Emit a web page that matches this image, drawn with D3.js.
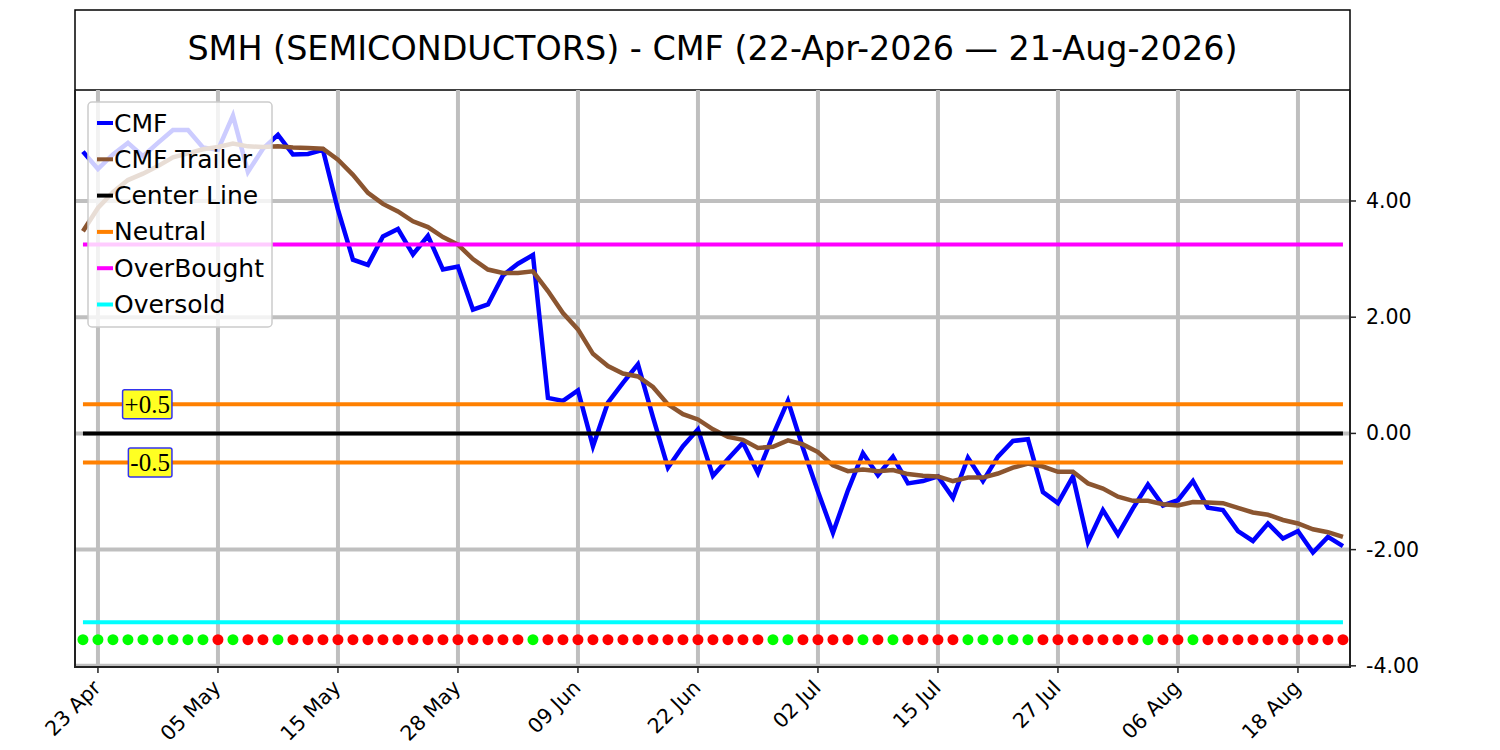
<!DOCTYPE html>
<html>
<head>
<meta charset="utf-8">
<script src="https://cdn.jsdelivr.net/npm/d3@7"></script>
<style>
	body { margin: 0; background: #fff; }
	svg { display: block; font-family: "DejaVu Sans", sans-serif; }
</style>
</head>
<body>
<div id="chart"></div>
<script>
// CMF values, one per trading day (22-Apr-2026 .. 21-Aug-2026)
var cmf = [4.85, 4.55, 4.80, 5.00, 4.77, 5.00, 5.22, 5.22, 4.92, 4.88,
	5.47, 4.50, 4.90, 5.14, 4.80, 4.81, 4.88, 3.85, 2.99, 2.90,
	3.39, 3.52, 3.08, 3.40, 2.82, 2.87, 2.13, 2.22, 2.72, 2.92,
	3.07, 0.61, 0.56, 0.74, -0.22, 0.53, 0.87, 1.19, 0.28, -0.59,
	-0.22, 0.07, -0.73, -0.44, -0.16, -0.68, -0.03, 0.56, -0.25, -1.00,
	-1.71, -0.98, -0.34, -0.72, -0.40, -0.86, -0.82, -0.74, -1.11, -0.42,
	-0.82, -0.40, -0.13, -0.10, -1.01, -1.20, -0.74, -1.87, -1.32, -1.74,
	-1.29, -0.88, -1.24, -1.15, -0.82, -1.28, -1.32, -1.68, -1.85, -1.55,
	-1.81, -1.68, -2.05, -1.78, -1.94];

var trailer = [3.48, 3.88, 4.15, 4.36, 4.47, 4.60, 4.75, 4.82, 4.89, 4.93,
	4.99, 4.94, 4.93, 4.94, 4.92, 4.91, 4.90, 4.71, 4.45, 4.14,
	3.95, 3.82, 3.65, 3.55, 3.38, 3.25, 3.00, 2.82, 2.76, 2.76,
	2.79, 2.45, 2.07, 1.79, 1.37, 1.16, 1.03, 0.98, 0.80, 0.50,
	0.33, 0.24, 0.07, -0.06, -0.11, -0.25, -0.23, -0.12, -0.19, -0.32,
	-0.55, -0.65, -0.62, -0.65, -0.63, -0.70, -0.73, -0.74, -0.82, -0.76,
	-0.76, -0.69, -0.59, -0.52, -0.57, -0.66, -0.66, -0.86, -0.95, -1.09,
	-1.16, -1.16, -1.22, -1.24, -1.18, -1.19, -1.20, -1.28, -1.36, -1.40,
	-1.49, -1.55, -1.65, -1.70, -1.78];

// 1 = green dot, 0 = red dot
var signal = [1,1,1,1,1,1,1,1,1,0, 1,0,0,1,0,0,0,0,0,0,
	0,0,0,0,0,0,0,0,0,0, 1,0,0,0,0,0,0,0,0,0,
	0,0,0,0,0,0,1,1,0,0, 0,0,1,0,1,0,0,0,0,1,
	1,1,1,1,0,0,0,0,0,0, 0,1,0,0,1,0,0,0,0,0,
	0,0,0,0,0];

var tickIdx = [1, 9, 17, 25, 33, 41, 49, 57, 65, 73, 81];
var tickLabels = ['23 Apr', '05 May', '15 May', '28 May', '09 Jun', '22 Jun',
	'02 Jul', '15 Jul', '27 Jul', '06 Aug', '18 Aug'];
var yTicks = [4, 2, 0, -2, -4];

var levels = [
	{name: 'Center Line', value: 0, color: '#000000'},
	{name: 'Neutral', value: 0.5, color: '#ff8000'},
	{name: 'Neutral', value: -0.5, color: '#ff8000'},
	{name: 'OverBought', value: 3.25, color: '#ff00ff'},
	{name: 'Oversold', value: -3.25, color: '#00ffff'}
];
var legendItems = [
	{name: 'CMF', color: '#0000ff'},
	{name: 'CMF Trailer', color: '#8b5530'},
	{name: 'Center Line', color: '#000000'},
	{name: 'Neutral', color: '#ff8000'},
	{name: 'OverBought', color: '#ff00ff'},
	{name: 'Oversold', color: '#00ffff'}
];
var labels = [{text: '+0.5', value: 0.5}, {text: '-0.5', value: -0.5}];
var dotLevel = -3.55;
var title = 'SMH (SEMICONDUCTORS) - CMF (22-Apr-2026 \u2014 21-Aug-2026)';

var width = 1500, height = 750;
var margin = {left: 75, right: 150, top: 90, bottom: 83};

var svg = d3.select('#chart').append('svg')
	.attr('width', width).attr('height', height);

var x = d3.scaleLinear().domain([-0.53, cmf.length - 1 + 0.47])
	.range([margin.left, width - margin.right]);
var y = d3.scaleLinear().domain([-4.02, 5.91])
	.range([height - margin.bottom, margin.top]);

var x0 = x.range()[0], x1 = x.range()[1];
var yTop = y.range()[1], yBot = y.range()[0];

// title box
svg.append('rect')
	.attr('x', x0).attr('y', 10)
	.attr('width', x1 - x0).attr('height', yTop - 10)
	.attr('fill', 'none').attr('stroke', '#000').attr('stroke-width', 1.5);
svg.append('text')
	.attr('x', (x0 + x1) / 2).attr('y', 50)
	.attr('text-anchor', 'middle').attr('dominant-baseline', 'middle')
	.attr('font-size', 33.4)
	.text(title);

// grid
var grid = svg.append('g');
grid.selectAll('.vgrid').data(tickIdx).enter().append('line')
	.attr('class', 'vgrid')
	.attr('x1', function(d){ return x(d); }).attr('x2', function(d){ return x(d); })
	.attr('y1', yTop).attr('y2', yBot)
	.attr('stroke', '#bfbfbf').attr('stroke-width', 4);
grid.selectAll('.hgrid').data(yTicks).enter().append('line')
	.attr('class', 'hgrid')
	.attr('x1', x0).attr('x2', x1)
	.attr('y1', function(d){ return y(d); }).attr('y2', function(d){ return y(d); })
	.attr('stroke', '#bfbfbf').attr('stroke-width', 4);

var line = function(values){
	return d3.line()
		.x(function(d, i){ return x(i); })
		.y(function(d){ return y(d); })(values);
};

svg.append('path').attr('d', line(cmf))
	.attr('fill', 'none').attr('stroke', '#0000ff')
	.attr('stroke-width', 4.5);
svg.append('path').attr('d', line(trailer))
	.attr('fill', 'none').attr('stroke', '#8b5530')
	.attr('stroke-width', 4.5);

// level lines
svg.selectAll('.level').data(levels).enter().append('line')
	.attr('class', 'level')
	.attr('x1', x(0)).attr('x2', x(cmf.length - 1))
	.attr('y1', function(d){ return y(d.value); })
	.attr('y2', function(d){ return y(d.value); })
	.attr('stroke', function(d){ return d.color; })
	.attr('stroke-width', 4);

// signal dots
svg.selectAll('.dot').data(signal).enter().append('circle')
	.attr('class', 'dot')
	.attr('cx', function(d, i){ return x(i); })
	.attr('cy', y(dotLevel))
	.attr('r', 5.5)
	.attr('fill', function(d){ return d ? '#00ff00' : '#ff0000'; });

// +0.5 / -0.5 tags
var tags = svg.selectAll('.tag').data(labels).enter().append('g')
	.attr('class', 'tag')
	.attr('transform', function(d){
		return 'translate(' + [x(6) - 3, y(d.value)] + ')';
	});
tags.append('text')
	.attr('text-anchor', 'end')
	.attr('dominant-baseline', 'central')
	.attr('font-family', '"Liberation Serif", serif')
	.attr('font-size', 25)
	.text(function(d){ return d.text; })
	.each(function(){
		var b = this.getBBox();
		d3.select(this.parentNode).insert('rect', 'text')
			.attr('x', b.x - 2).attr('y', b.y - 1)
			.attr('width', b.width + 4).attr('height', b.height + 2)
			.attr('rx', 2)
			.attr('fill', '#ffff22').attr('stroke', '#3333ee').attr('stroke-width', 1.5);
	});

// axes frame
svg.append('line').attr('x1', x0).attr('x2', x0).attr('y1', yTop).attr('y2', yBot)
	.attr('stroke', '#222').attr('stroke-width', 2);
svg.append('line').attr('x1', x1).attr('x2', x1).attr('y1', yTop).attr('y2', yBot)
	.attr('stroke', '#222').attr('stroke-width', 2);
svg.append('line').attr('x1', x0 - 1).attr('x2', x1 + 1).attr('y1', yBot).attr('y2', yBot)
	.attr('stroke', '#222').attr('stroke-width', 2);

// right y axis
var yAxis = svg.append('g');
yAxis.selectAll('line').data(yTicks).enter().append('line')
	.attr('x1', x1).attr('x2', x1 + 6)
	.attr('y1', function(d){ return y(d); }).attr('y2', function(d){ return y(d); })
	.attr('stroke', '#222').attr('stroke-width', 1.5);
yAxis.selectAll('text').data(yTicks).enter().append('text')
	.attr('x', x1 + 16)
	.attr('y', function(d){ return y(d); })
	.attr('dominant-baseline', 'central')
	.attr('font-size', 20.5)
	.text(function(d){ return d.toFixed(2); });

// bottom x axis
var xAxis = svg.append('g');
xAxis.selectAll('line').data(tickIdx).enter().append('line')
	.attr('x1', function(d){ return x(d); }).attr('x2', function(d){ return x(d); })
	.attr('y1', yBot).attr('y2', yBot + 6)
	.attr('stroke', '#222').attr('stroke-width', 1.5);
xAxis.selectAll('text').data(tickIdx).enter().append('text')
	.attr('text-anchor', 'end')
	.attr('font-size', 20.5)
	.attr('transform', function(d){
		return 'translate(' + [x(d) + 4, yBot + 22] + ') rotate(-45)';
	})
	.text(function(d, i){ return tickLabels[i]; });

// legend
var lg = svg.append('g').attr('transform', 'translate(88,102)');
lg.append('rect')
	.attr('width', 184).attr('height', 225).attr('rx', 4)
	.attr('fill', '#ffffff').attr('fill-opacity', 0.8)
	.attr('stroke', '#cccccc').attr('stroke-width', 1.5);
var row = lg.selectAll('.row').data(legendItems).enter().append('g')
	.attr('class', 'row')
	.attr('transform', function(d, i){ return 'translate(' + [0, 21 + i * 36.3] + ')'; });
row.append('line')
	.attr('x1', 9).attr('x2', 25)
	.attr('stroke', function(d){ return d.color; })
	.attr('stroke-width', 4);
row.append('text')
	.attr('x', 26)
	.attr('dominant-baseline', 'central')
	.attr('font-size', 25)
	.text(function(d){ return d.name; });
</script>
</body>
</html>
